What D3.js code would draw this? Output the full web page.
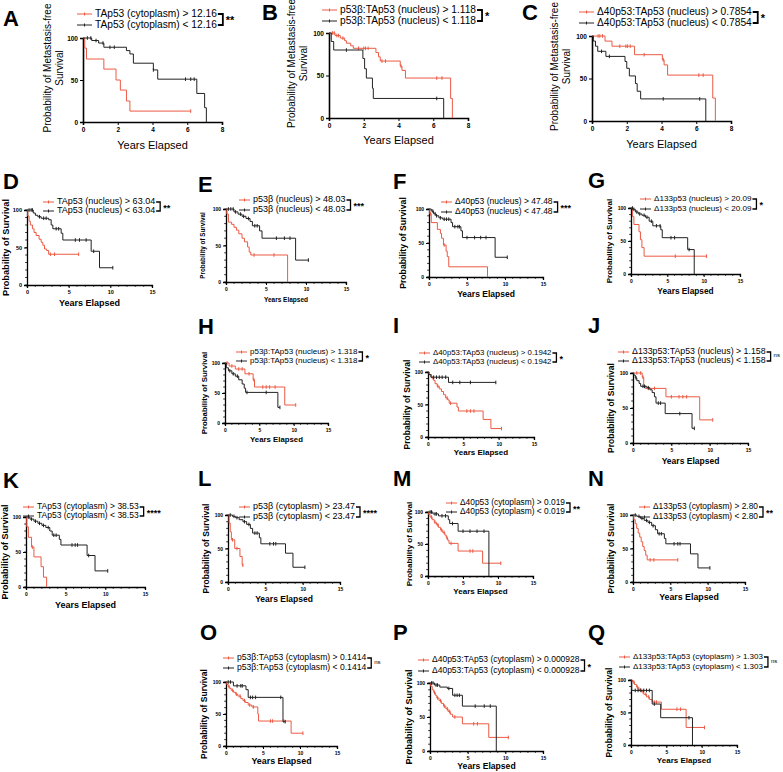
<!DOCTYPE html>
<html>
<head>
<meta charset="utf-8">
<script src="https://cdn.jsdelivr.net/npm/d3@7"></script>
<style>
  body { margin: 0; background: #fff; }
  svg { font-family: "Liberation Sans", Arial, sans-serif; }
</style>
</head>
<body>
<svg id="fig" width="783" height="772"></svg>
<script>
const redColor = "#ec5a44";
const blackColor = "#222";

// ---- data ----
const panelIds = ["A","B","C","D","E","F","G","H","I","J","K","L","M","N","O","P","Q"];
const highLabels = [
  "TAp53 (cytoplasm) > 12.16",
  "p53β:TAp53 (nucleus) > 1.118",
  "Δ40p53:TAp53 (nucleus) > 0.7854",
  "TAp53 (nucleus) > 63.04",
  "p53β (nucleus) > 48.03",
  "Δ40p53 (nucleus) > 47.48",
  "Δ133p53 (nucleus) > 20.09",
  "p53β:TAp53 (nucleus) > 1.318",
  "Δ40p53:TAp53 (nucleus) > 0.1942",
  "Δ133p53:TAp53 (nucleus) > 1.158",
  "TAp53 (cytoplasm) > 38.53",
  "p53β (cytoplasm) > 23.47",
  "Δ40p53 (cytoplasm) > 0.019",
  "Δ133p53 (cytoplasm) > 2.80",
  "p53β:TAp53 (cytoplasm) > 0.1414",
  "Δ40p53:TAp53 (cytoplasm) > 0.000928",
  "Δ133p53:TAp53 (cytoplasm) > 1.303"
];
const lowLabels = highLabels.map(function(s) { return s.replace(">", "<"); });
const sigMarks = ["**","*","*","**","***","***","*","*","*","ns","****","****","**","**","ns","*","ns"];
const xMaxes = [8,8,8,15,15,15,15,15,15,15,15,15,15,15,15,15,15];
const yLabelsTop = ["Probability of Metastasis-free", "Survival"];
const yLabelOther = "Probability of Survival";
const xLabel = "Years Elapsed";
const yTickVals = [0, 50, 100];

// survival steps [years, %] for the "high" (red) group
const highSteps = [
  [[0,100],[0.1,88],[0.2,75],[1.2,63],[1.9,50],[2.15,38],[2.5,25],[2.7,13]],
  [[0,100],[0.35,97],[0.65,94],[0.9,91],[1.0,88],[1.25,85],[1.4,82],[2.7,77],[2.85,72],[2.95,67],[4.1,61],[4.2,56],[4.4,47],[7.0,23],[7.1,0]],
  [[0,100],[0.75,94],[1.15,88],[2.45,78],[4.05,72],[4.15,66],[4.35,54],[6.95,27],[7.1,0]],
  [[0,100],[0.1,92],[0.25,85],[0.4,80],[0.65,75],[0.85,70],[1.1,66],[1.45,61],[1.7,57],[1.9,53],[2.1,48],[2.35,46],[2.6,41]],
  [[0,100],[0.1,93],[0.3,82],[0.7,79],[1.0,75],[1.3,71],[1.6,66],[2.0,60],[2.3,55],[2.7,48],[2.9,41],[3.1,37],[7.7,0]],
  [[0,100],[0.1,93],[0.3,80],[1.1,70],[1.5,64],[1.65,57],[1.9,47],[2.25,38],[2.4,30],[2.6,15],[7.7,0]],
  [[0,100],[0.2,87],[0.4,75],[1.1,64],[1.3,52],[1.5,40],[1.8,27]],
  [[0,100],[0.6,95],[1.5,90],[2.9,82],[4.1,72],[4.3,60],[8.7,30]],
  [[0,100],[0.2,96],[0.5,91],[0.8,87],[1.0,82],[1.3,78],[1.6,74],[1.9,70],[2.2,65],[2.5,60],[2.8,57],[3.0,52],[4.1,46],[4.3,40],[7.8,27],[8.9,13]],
  [[0,100],[1.2,94],[1.4,82],[1.6,78],[4.3,66],[8.7,33]],
  [[0,100],[0.1,86],[0.3,71],[0.7,57],[1.0,43],[1.9,29],[2.2,14],[2.6,0]],
  [[0,100],[0.15,88],[0.3,75],[0.45,63],[0.9,50],[1.6,38],[1.9,25]],
  [[0,100],[0.1,96],[0.3,92],[0.6,88],[0.9,84],[1.2,80],[1.5,76],[1.8,72],[2.1,68],[2.4,64],[2.6,60],[2.8,56],[3.0,51],[4.3,39],[7.8,20]],
  [[0,100],[0.1,93],[0.3,87],[0.5,80],[0.7,73],[0.9,67],[1.1,60],[1.3,53],[1.5,47],[1.7,40],[1.9,33]],
  [[0,100],[0.1,96],[0.3,93],[0.5,90],[0.7,87],[1.0,84],[1.3,81],[1.6,78],[2.0,74],[2.3,71],[2.6,68],[3.0,64],[3.5,61],[4.3,50],[4.4,39],[8.8,20]],
  [[0,100],[0.1,95],[0.3,90],[0.5,86],[0.7,82],[0.9,78],[1.2,74],[1.5,70],[1.8,66],[2.1,62],[2.4,58],[2.7,54],[3.0,50],[4.3,40],[7.8,20]],
  [[0,100],[0.2,97],[0.5,93],[0.8,89],[1.1,85],[1.4,82],[1.8,78],[2.2,74],[2.6,70],[3.0,66],[4.3,55],[7.8,27]]
];
const highEnds = [6.2,7.1,7.1,6.2,7.7,7.7,10.4,10.3,10.4,10.4,2.6,2.0,10.4,6.0,10.4,10.4,10.4];
const highCens = [
  [6.2],
  [0.2,0.3,0.45,0.55,0.8,1.7,2.0,2.1,2.25,3.05,3.25,4.15,6.2,6.5],
  [0.35,0.45,0.6,1.6,1.95,2.05,2.2,3.0,4.1,6.15,6.4],
  [2.8,3.3,6.2],
  [3.5,6.0],
  [0.2,2.0],
  [6.1,10.4],
  [0.3,1.0,2.0,2.5,3.5,4.2,5.5,6.0,6.5,7.3,10.3],
  [0.7,1.4,2.7,3.2,5.5,6.0,6.5,10.4],
  [0.5,1.0,1.3,2.0,2.8,5.0,6.0,6.5,7.0,10.4],
  [0.8],
  [0.6,1.2,2.0],
  [0.5,1.0,1.4,1.9,2.3,2.7,3.3,6.0,6.4,10.4],
  [2.3,2.8,6.0],
  [0.4,0.9,1.4,1.9,2.5,3.2,3.7,6.0,6.3,7.8,10.4],
  [0.6,1.0,1.4,1.9,2.3,2.6,3.3,5.8,6.3,10.4],
  [0.4,0.9,1.3,1.7,2.1,2.5,3.3,3.6,6.5,7.0,10.4]
];

// survival steps for the "low" (black) group
const lowSteps = [
  [[0,100],[0.5,97],[0.9,94],[1.2,89],[2.5,85],[2.7,81],[2.9,70],[4.05,62],[4.3,51],[6.55,34],[7.0,17],[7.1,0]],
  [[0,100],[0.13,90],[0.27,80],[1.95,70],[2.05,58],[2.15,47],[2.5,35],[2.55,23],[6.6,0]],
  [[0,100],[0.08,94],[0.2,88],[0.33,82],[0.8,76],[1.9,70],[2.0,62],[2.15,53],[2.5,44],[2.6,35],[2.8,26],[6.55,0]],
  [[0,100],[0.75,96],[1.0,93],[1.3,91],[1.7,89],[2.6,87],[2.9,80],[3.1,75],[4.1,69],[4.3,60],[7.7,45],[8.7,23]],
  [[0,100],[1.0,96],[1.5,93],[2.0,90],[2.5,87],[3.0,83],[3.3,77],[4.2,70],[4.5,60],[8.7,30]],
  [[0,100],[0.3,97],[0.6,93],[0.9,90],[1.3,87],[1.8,85],[2.9,80],[3.1,74],[4.2,68],[4.4,58],[8.7,29]],
  [[0,100],[0.3,98],[0.6,94],[1.0,91],[1.5,89],[2.0,86],[2.5,80],[3.0,73],[4.1,67],[4.3,55],[7.8,37],[8.7,0]],
  [[0,100],[0.2,92],[0.5,87],[1.0,82],[1.5,78],[2.0,72],[2.5,65],[2.8,58],[3.0,51],[7.7,26]],
  [[0,100],[0.1,96],[0.4,92],[2.9,84]],
  [[0,100],[0.1,97],[0.3,93],[0.5,89],[0.8,85],[1.0,81],[1.8,79],[2.2,76],[2.5,72],[2.8,66],[3.0,57],[4.2,42],[7.7,21]],
  [[0,100],[0.5,97],[1.0,94],[1.5,91],[2.0,88],[2.5,85],[3.0,80],[3.3,74],[4.2,68],[4.4,60],[7.7,45],[8.7,23]],
  [[0,100],[0.6,98],[1.0,96],[1.5,93],[2.0,90],[2.5,86],[3.0,80],[3.3,73],[4.2,66],[4.4,57],[7.7,43],[8.7,22]],
  [[0,100],[0.7,97],[1.5,94],[2.9,88],[3.1,82],[4.3,70],[8.7,0]],
  [[0,100],[0.5,98],[1.0,95],[1.5,92],[2.0,89],[2.5,84],[3.0,78],[3.3,72],[4.2,65],[4.4,57],[7.7,42],[8.7,21]],
  [[0,100],[1.0,94],[2.7,88],[3.0,76],[7.7,38]],
  [[0,100],[0.6,97],[1.3,94],[2.3,92],[3.0,82],[4.3,66],[8.8,0]],
  [[0,100],[0.1,84],[3.0,63],[4.2,42],[8.7,0]]
];
const lowEnds = [7.1,6.6,6.55,10.3,10.3,10.3,8.7,8.0,9.6,8.0,10.3,10.3,8.7,10.3,8.0,8.8,8.7];
const lowCens = [
  [0.25,0.45,0.75,1.15,1.55,1.8,4.05,5.9,6.2,6.4],
  [1.0,6.2],
  [0.55,1.0,4.1,6.2],
  [0.25,0.5,0.65,1.5,2.0,2.3,3.5,3.8,5.8,6.3,7.1,8.0,10.3],
  [0.3,0.6,0.9,1.2,1.8,2.2,2.8,3.6,3.9,6.3,7.3,8.0,10.3],
  [0.5,0.8,1.0,1.5,2.0,2.3,2.6,3.4,3.8,4.0,5.0,6.0,6.8,7.5,10.3],
  [0.2,0.4,0.8,1.2,1.8,2.2,2.8,3.5,4.0,5.5,6.0,8.0],
  [0.7,1.2,1.8,3.2,6.0,8.0],
  [0.8,1.2,1.6,2.0,2.5,3.5,4.5,6.0,9.6],
  [0.4,1.3,1.5,2.0,3.3,3.6,6.1,8.0],
  [0.3,0.7,1.2,1.7,2.2,2.8,3.5,3.8,5.8,6.2,6.5,7.9,10.3],
  [0.3,0.8,1.2,2.2,2.8,3.6,3.9,5.6,6.1,6.4,10.3],
  [0.3,0.5,1.0,1.2,2.0,2.5,3.5,5.0,6.0,7.0,8.0],
  [0.3,0.8,1.2,1.8,2.2,2.7,3.5,3.8,5.5,6.0,6.3,10.3],
  [0.3,0.6,1.5,2.0,2.2,3.3,3.6,4.0,7.4,8.0],
  [0.2,0.4,0.8,1.0,2.5,3.3,3.6,3.9,6.0,7.2,8.0],
  [0.6,1.0,1.4,1.8,2.2,2.6,3.3,8.2]
];

// ---- layout of each small panel (pixels) ----
// lx/ly: panel letter; x0/x1: x axis span; yTop/yBot: 100% and 0%;
// legX/legY1/legY2: legend text; yeY: x title; ylX: y title
const layout = [
  {lx:3,ly:20,x0:83,x1:222,yTop:38,yBot:122,legX:95,legY1:14,legY2:25,legFs:10.2,yeY:146,yeFs:11,ylX:[48,60],ylFs:10,tickFs:6.5,top:true},
  {lx:262,ly:14,x0:329,x1:468,yTop:33,yBot:118,legX:340,legY1:10,legY2:21,legFs:10.2,yeY:141,yeFs:11,ylX:[292,304],ylFs:10,tickFs:6.5,top:true},
  {lx:522,ly:14,x0:592,x1:731,yTop:36,yBot:121,legX:597,legY1:12,legY2:23,legFs:10.2,yeY:145,yeFs:11,ylX:[555,567],ylFs:10,tickFs:6.5,top:true},
  {lx:3,ly:183,x0:27,x1:152,yTop:210,yBot:285,legX:57,legY1:202,legY2:211,legFs:9,yeY:304,yeFs:9,ylX:7,ylFs:9.2,tickFs:5.5},
  {lx:198,ly:186,x0:226,x1:346,yTop:209,yBot:282,legX:253,legY1:200,legY2:210,legFs:9,yeY:300,yeFs:6.5,ylX:203,ylFs:6.3,tickFs:5},
  {lx:393,ly:183,x0:429,x1:543,yTop:209,yBot:277,legX:455,legY1:202,legY2:212,legFs:8.5,yeY:295,yeFs:8.5,ylX:404,ylFs:8.7,tickFs:5},
  {lx:588,ly:182,x0:631,x1:740,yTop:208,yBot:274,legX:654,legY1:199,legY2:209,legFs:8.1,yeY:292,yeFs:8.3,ylX:610,ylFs:8,tickFs:5},
  {lx:198,ly:328,x0:225,x1:328,yTop:363,yBot:423,legX:250,legY1:352,legY2:361,legFs:8,yeY:440,yeFs:7.8,ylX:205,ylFs:7.8,tickFs:5},
  {lx:393,ly:327,x0:428,x1:534,yTop:372,yBot:437,legX:433,legY1:353,legY2:362,legFs:7.8,yeY:453,yeFs:8,ylX:408,ylFs:8.5,tickFs:5},
  {lx:588,ly:327,x0:633,x1:748,yTop:373,yBot:443,legX:632,legY1:352,legY2:361,legFs:8.8,yeY:462,yeFs:8.5,ylX:612,ylFs:8.5,tickFs:5},
  {lx:3,ly:482,x0:26,x1:145,yTop:517,yBot:587,legX:37,legY1:507,legY2:516,legFs:8.5,yeY:606,yeFs:9,ylX:6,ylFs:9,tickFs:5},
  {lx:198,ly:480,x0:228,x1:340,yTop:515,yBot:582,legX:253,legY1:507,legY2:517,legFs:9,yeY:600,yeFs:8.5,ylX:207,ylFs:8.5,tickFs:5},
  {lx:393,ly:480,x0:428,x1:533,yTop:512,yBot:576,legX:460,legY1:503,legY2:512,legFs:8.4,yeY:592,yeFs:8,ylX:410,ylFs:8,tickFs:5},
  {lx:588,ly:480,x0:633,x1:745,yTop:515,yBot:582,legX:653,legY1:507,legY2:517,legFs:8.4,yeY:598,yeFs:8.8,ylX:612,ylFs:8.5,tickFs:5},
  {lx:200,ly:634,x0:226,x1:337,yTop:682,yBot:746,legX:237,legY1:658,legY2:668,legFs:8.6,yeY:762,yeFs:8.9,ylX:205,ylFs:8.5,tickFs:5},
  {lx:393,ly:634,x0:430,x1:543,yTop:683,yBot:751,legX:432,legY1:660,legY2:671,legFs:8.5,yeY:767,yeFs:8.6,ylX:410,ylFs:9,tickFs:5},
  {lx:588,ly:634,x0:631,x1:737,yTop:680,yBot:745,legX:633,legY1:657,legY2:667,legFs:8,yeY:761,yeFs:8,ylX:610,ylFs:8.5,tickFs:5}
];

const svg = d3.select("#fig");

function stepValue(steps, t) {
  /* survival value of a step curve at time t */
  var v = steps[0][1];
  for (var i = 0; i < steps.length; i++) {
    if (steps[i][0] <= t) v = steps[i][1];
  }
  return v;
}

function stepPoints(steps, end) {
  var pts = [[steps[0][0], steps[0][1]]];
  for (var i = 1; i < steps.length; i++) {
    pts.push([steps[i][0], steps[i - 1][1]]);
    pts.push([steps[i][0], steps[i][1]]);
  }
  var last = steps[steps.length - 1];
  if (end > last[0] && last[1] > 0) pts.push([end, last[1]]);
  return pts;
}

function drawCurve(g, x, y, steps, end, cens, color) {
  var line = d3.line().x(function(d) { return x(d[0]); }).y(function(d) { return y(d[1]); });
  g.append("path")
    .attr("d", line(stepPoints(steps, end)))
    .attr("fill", "none")
    .attr("stroke", color)
    .attr("stroke-width", 1);
  g.selectAll(null)
    .data(cens)
    .join("line")
    .attr("x1", function(d) { return x(d); })
    .attr("x2", function(d) { return x(d); })
    .attr("y1", function(d) { return y(stepValue(steps, d)) - 1.8; })
    .attr("y2", function(d) { return y(stepValue(steps, d)) + 1.8; })
    .attr("stroke", color)
    .attr("stroke-width", 1);
}

function drawPanel(i) {
  var L = layout[i];
  var g = svg.append("g").attr("class", "panel-" + panelIds[i]);
  var x = d3.scaleLinear().domain([0, xMaxes[i]]).range([L.x0, L.x1]);
  var y = d3.scaleLinear().domain([0, 100]).range([L.yBot, L.yTop]);

  // panel letter
  g.append("text")
    .attr("x", L.lx).attr("y", L.ly)
    .attr("dominant-baseline", "middle")
    .attr("font-size", 22).attr("font-weight", "bold")
    .text(panelIds[i]);

  // axes
  var xMajor = L.top ? [0, 2, 4, 6, 8] : [0, 5, 10, 15];
  var xAxis = d3.axisBottom(x).tickValues(xMajor).tickSize(3).tickPadding(2);
  var gx = g.append("g").attr("transform", "translate(0," + L.yBot + ")").call(xAxis);
  var yAxis = d3.axisLeft(y).tickValues(yTickVals).tickSize(3).tickPadding(2);
  var gy = g.append("g").attr("transform", "translate(" + L.x0 + ",0)").call(yAxis);
  [gx, gy].forEach(function(a) {
    a.select(".domain").attr("stroke", "#000").attr("stroke-width", L.top ? 1.6 : 1.3);
    a.selectAll(".tick line").attr("stroke", "#000").attr("stroke-width", 1);
    a.selectAll(".tick text")
      .attr("font-size", L.tickFs).attr("font-weight", "bold")
      .attr("font-family", "Liberation Sans, Arial, sans-serif");
  });
  if (!L.top) {
    var minorX = d3.range(0, xMaxes[i] + 1);
    g.selectAll(null).data(minorX).join("line")
      .attr("x1", function(d) { return x(d); }).attr("x2", function(d) { return x(d); })
      .attr("y1", L.yBot).attr("y2", L.yBot + 1.8)
      .attr("stroke", "#000").attr("stroke-width", 0.8);
    var minorY = d3.range(0, 101, 10);
    g.selectAll(null).data(minorY).join("line")
      .attr("x1", L.x0 - 1.8).attr("x2", L.x0)
      .attr("y1", function(d) { return y(d); }).attr("y2", function(d) { return y(d); })
      .attr("stroke", "#000").attr("stroke-width", 0.8);
  }

  // axis titles
  g.append("text")
    .attr("x", (L.x0 + L.x1) / 2).attr("y", L.yeY)
    .attr("text-anchor", "middle").attr("dominant-baseline", "middle")
    .attr("font-size", L.yeFs)
    .attr("font-weight", L.top ? "normal" : "bold")
    .text(xLabel);
  var yMid = (L.yTop + L.yBot) / 2;
  if (L.top) {
    yLabelsTop.forEach(function(s, k) {
      g.append("text")
        .attr("transform", "translate(" + L.ylX[k] + "," + (yMid - 12) + ") rotate(-90)")
        .attr("text-anchor", "middle").attr("dominant-baseline", "middle")
        .attr("font-size", L.ylFs)
        .text(s);
    });
  } else {
    g.append("text")
      .attr("transform", "translate(" + L.ylX + "," + yMid + ") rotate(-90)")
      .attr("text-anchor", "middle").attr("dominant-baseline", "middle")
      .attr("font-size", L.ylFs).attr("font-weight", "bold")
      .text(yLabelOther);
  }

  // curves
  drawCurve(g, x, y, highSteps[i], highEnds[i], highCens[i], redColor);
  drawCurve(g, x, y, lowSteps[i], lowEnds[i], lowCens[i], blackColor);

  // legend with bracket
  var ends = [];
  [[highLabels[i], L.legY1, redColor], [lowLabels[i], L.legY2, blackColor]].forEach(function(row) {
    var mx = L.legX - 3;
    var ml = L.top ? 15 : 11;
    g.append("line")
      .attr("x1", mx - ml).attr("x2", mx).attr("y1", row[1]).attr("y2", row[1])
      .attr("stroke", row[2]).attr("stroke-width", 1);
    g.append("line")
      .attr("x1", mx - ml / 2).attr("x2", mx - ml / 2).attr("y1", row[1] - 1.5).attr("y2", row[1] + 1.5)
      .attr("stroke", row[2]).attr("stroke-width", 1);
    var t = g.append("text")
      .attr("x", L.legX).attr("y", row[1])
      .attr("dominant-baseline", "middle")
      .attr("font-size", L.legFs)
      .text(row[0]);
    ends.push(L.legX + t.node().getComputedTextLength());
  });
  var bx = d3.max(ends) + (L.top ? 6 : 5);
  var bracket = d3.line()([
    [ends[0] + 1, L.legY1], [bx, L.legY1], [bx, L.legY2], [ends[1] + 1, L.legY2]
  ]);
  g.append("path").attr("d", bracket).attr("fill", "none")
    .attr("stroke", "#000").attr("stroke-width", L.top ? 1.8 : 1.3);
  var isNs = sigMarks[i] === "ns";
  g.append("text")
    .attr("x", bx + 3).attr("y", (L.legY1 + L.legY2) / 2 + (isNs ? -1 : 2))
    .attr("dominant-baseline", "middle")
    .attr("font-size", isNs ? 6 : (L.top ? 11 : 9))
    .attr("font-weight", isNs ? "normal" : "bold")
    .text(sigMarks[i]);
}

for (var i = 0; i < panelIds.length; i++) {
  drawPanel(i);
}
</script>
</body>
</html>
